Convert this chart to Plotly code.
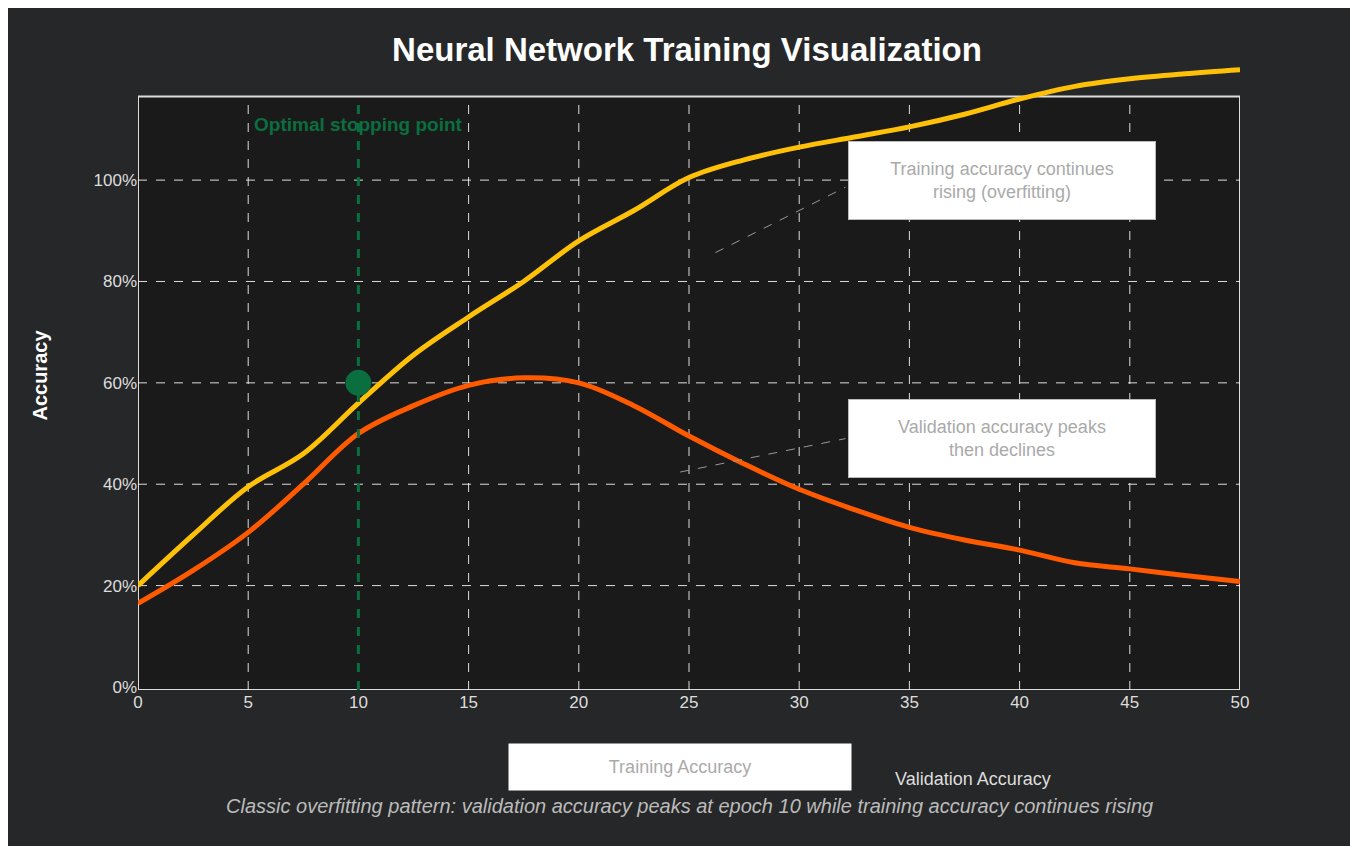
import plotly.graph_objects as go

epochs = [0, 2.5, 5, 7.5, 10, 12.5, 15, 17.5, 20, 22.5, 25, 27.5, 30, 32.5, 35, 37.5, 40, 42.5, 45, 47.5, 50]
train_acc = [20, 30, 39.5, 46, 56, 65.5, 73, 80, 88, 94, 100.5, 104, 106.5, 108.5, 110.5, 113, 116, 118.5, 120, 121, 121.8]
val_acc = [16.5, 23, 30.5, 40, 50, 55.5, 59.5, 61, 60, 55.5, 49.5, 44, 39, 35, 31.5, 29, 27, 24.5, 23.3, 22, 20.8]
x_ticks = [0, 5, 10, 15, 20, 25, 30, 35, 40, 45, 50]
y_ticks = [0, 20, 40, 60, 80, 100]
stop_epoch = 10
stop_acc = 60

Y_TOP = 116.5   # visible plot frame top
Y_MAX = 123.5   # axis range top, lets the training curve run above the frame

fig = go.Figure()

# plot frame drawn by hand so the training curve can overflow it
fig.add_shape(type="rect", x0=0, x1=50, y0=-0.6, y1=Y_TOP, layer="below",
              fillcolor="#1a1a1b", line=dict(color="#dddddd", width=2))
for xv in x_ticks[1:-1]:
    fig.add_shape(type="line", x0=xv, x1=xv, y0=-0.6, y1=Y_TOP, layer="below",
                  line=dict(color="rgba(255,255,255,0.85)", width=1, dash="dash"))
for yv in y_ticks[1:]:
    fig.add_shape(type="line", x0=0, x1=50, y0=yv, y1=yv, layer="below",
                  line=dict(color="rgba(255,255,255,0.85)", width=1, dash="dash"))

fig.add_trace(go.Scatter(x=epochs, y=train_acc, mode="lines", name="Training Accuracy",
                         line=dict(color="#ffc107", width=5, shape="spline"), showlegend=False))
fig.add_trace(go.Scatter(x=epochs, y=val_acc, mode="lines", name="Validation Accuracy",
                         line=dict(color="#ff5a00", width=5, shape="spline"), showlegend=False))
fig.add_trace(go.Scatter(x=[stop_epoch], y=[stop_acc], mode="markers",
                         marker=dict(color="#0b6e3f", size=26), showlegend=False))

fig.add_shape(type="line", x0=stop_epoch, x1=stop_epoch, y0=-0.6, y1=Y_TOP,
              line=dict(color="#0b6e3f", width=3, dash="dash"))
fig.add_annotation(x=stop_epoch, y=111, text="<b>Optimal stopping point</b>",
                   showarrow=False, font=dict(color="#0b6e3f", size=19))

# callouts
for tx, ty, lx0, ly0, lx1, ly1, txt in [
        (39.2, 100, 26.2, 85.7, 32.1, 98.6, "Training accuracy continues<br>rising (overfitting)"),
        (39.2, 49, 24.6, 42.4, 32.1, 49, "Validation accuracy peaks<br>then declines")]:
    fig.add_shape(type="line", x0=lx0, y0=ly0, x1=lx1, y1=ly1,
                  line=dict(color="#999999", width=1, dash="dash"))
    fig.add_annotation(x=tx, y=ty, text=txt, showarrow=False, bgcolor="white",
                       bordercolor="#bbbbbb", borderwidth=1, borderpad=17, width=272,
                       font=dict(color="#aaaaaa", size=18))

# legend
fig.add_annotation(x=0.492, y=-0.16, xref="paper", yref="paper", text="Training Accuracy",
                   showarrow=False, bgcolor="white", borderpad=13, width=316,
                   font=dict(color="#aaaaaa", size=18))
fig.add_annotation(x=0.685, y=-0.16, xref="paper", yref="paper", text="Validation Accuracy",
                   showarrow=False, font=dict(color="#dddddd", size=18), xanchor="left")
fig.add_annotation(x=0.5, y=-0.205, xref="paper", yref="paper",
                   text="<i>Classic overfitting pattern: validation accuracy peaks at epoch 10 while training accuracy continues rising</i>",
                   showarrow=False, font=dict(color="#bbbbbb", size=20))

fig.update_xaxes(range=[0, 50], tickvals=x_ticks, showgrid=False, zeroline=False,
                 tickfont=dict(color="#dddddd", size=17))
fig.update_yaxes(range=[-0.6, Y_MAX], tickvals=y_ticks, ticktext=[f"{v}%" for v in y_ticks],
                 showgrid=False, zeroline=False, tickfont=dict(color="#dddddd", size=17),
                 title=dict(text="<b>Accuracy</b>", font=dict(color="white", size=20), standoff=40))

fig.update_layout(
    width=1358, height=846,
    title=dict(text="<b>Neural Network Training Visualization</b>", x=0.5, y=0.965,
               font=dict(color="white", size=33, family="Arial")),
    font=dict(family="Arial"),
    paper_bgcolor="#262728", plot_bgcolor="#262728",
    margin=dict(l=130, r=126, t=53, b=164),
)
fig.write_html("out.html")
